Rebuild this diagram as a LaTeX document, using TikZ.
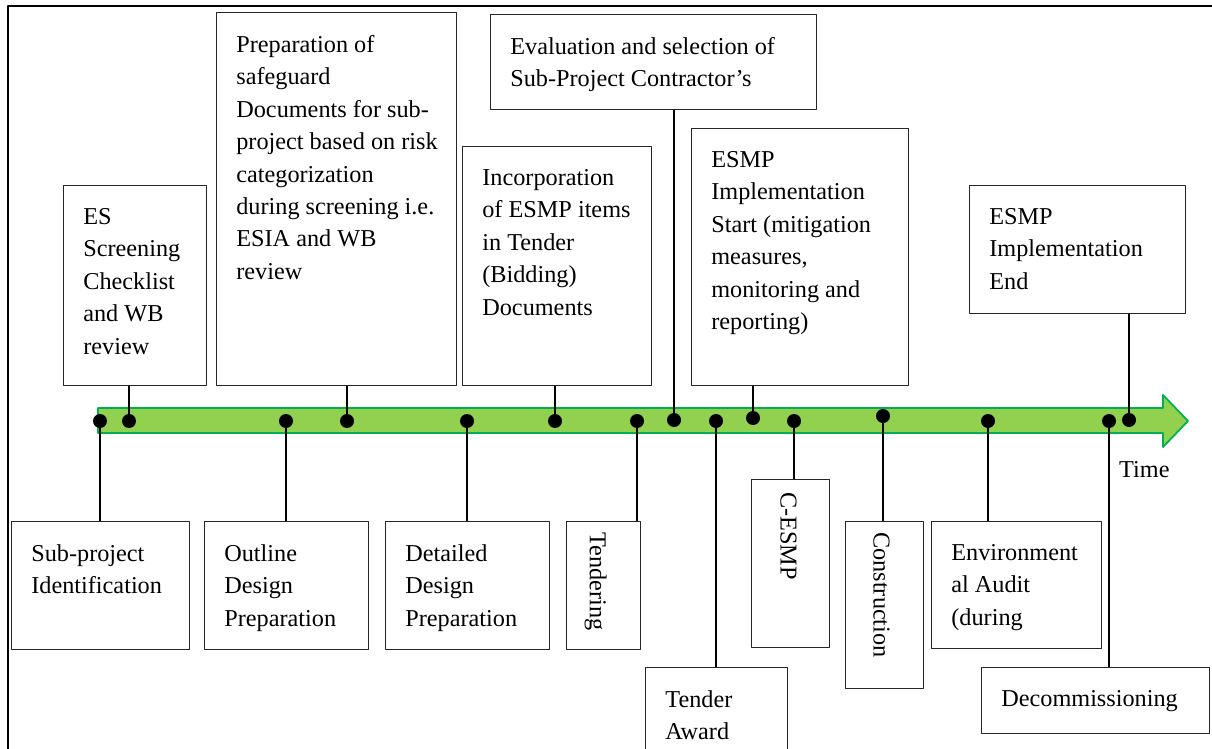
\documentclass[tikz,border=0pt]{standalone}
\usepackage{fontspec}
\setmainfont{Liberation Serif}
\usetikzlibrary{calc}
\definecolor{barfill}{HTML}{92D050}
\definecolor{barline}{HTML}{00B050}
\begin{document}
\begin{tikzpicture}[x=0.02cm,y=-0.02cm,line join=round,
	font=\fontsize{13.8}{18.45}\selectfont,
	box/.style={draw=black!85,line width=0.7pt,inner sep=0pt,anchor=north west},
	txt/.style={align=left,inner sep=0pt,anchor=north west},
	dot/.style={circle,fill,inner sep=0pt,minimum size=0.28cm},
	link/.style={line width=0.7pt}]
	\useasboundingbox (0,0) rectangle (1212,749);
	\clip (0,0) rectangle (1212,749);
	\draw[line width=1pt] (8,760) -- (8,6) -- (1220,6);
	\draw[fill=barfill,draw=barline,line width=1pt] (98,408) -- (1163,408) -- (1163,395) -- (1188,421)
		-- (1163,447) -- (1163,433) -- (98,433) -- cycle;
	\node[anchor=base west] (time) at (1113,477) {Time};
	% boxes above the time line
	\node[box,minimum width=2.86cm,minimum height=4cm] (screen) at (63,185) {};
	\node[txt] (screentext) at ($(screen.north west)+(20,23)$) {ES\\Screening\\Checklist\\and WB\\review};
	\node[box,minimum width=4.8cm,minimum height=7.46cm] (prep) at (216,12) {};
	\node[txt] (preptext) at ($(prep.north west)+(20,23)$) {Preparation of\\safeguard\\Documents for sub-\\project based on risk\\categorization\\during screening i.e.\\ESIA and WB\\review};
	\node[box,minimum width=6.52cm,minimum height=1.9cm] (select) at (490,14) {};
	\node[txt] (selecttext) at ($(select.north west)+(20,23)$) {Evaluation and selection of\\Sub-Project Contractor’s};
	\node[box,minimum width=3.78cm,minimum height=4.78cm] (incorp) at (462,146) {};
	\node[txt] (incorptext) at ($(incorp.north west)+(20,23)$) {Incorporation\\of ESMP items\\in Tender\\(Bidding)\\Documents};
	\node[box,minimum width=4.34cm,minimum height=5.14cm] (start) at (691,128) {};
	\node[txt] (starttext) at ($(start.north west)+(20,23)$) {ESMP\\Implementation\\Start (mitigation\\measures,\\monitoring and\\reporting)};
	\node[box,minimum width=4.32cm,minimum height=2.56cm] (finish) at (969,185) {};
	\node[txt] (finishtext) at ($(finish.north west)+(20,23)$) {ESMP\\Implementation\\End};
	% boxes below the time line
	\node[box,minimum width=3.56cm,minimum height=2.56cm] (ident) at (11,521) {};
	\node[txt] (identtext) at ($(ident.north west)+(20,23)$) {Sub-project\\Identification};
	\node[box,minimum width=3.28cm,minimum height=2.56cm] (outline) at (204,521) {};
	\node[txt] (outlinetext) at ($(outline.north west)+(20,23)$) {Outline\\Design\\Preparation};
	\node[box,minimum width=3.28cm,minimum height=2.56cm] (detail) at (385,521) {};
	\node[txt] (detailtext) at ($(detail.north west)+(20,23)$) {Detailed\\Design\\Preparation};
	\node[box,minimum width=1.48cm,minimum height=2.56cm] (tender) at (566,521) {};
	\node[txt,rotate=-90] (tendertext) at ($(tender.north west)+(41,11)$) {Tendering};
	\node[box,minimum width=2.84cm,minimum height=2cm] (award) at (645,667) {};
	\node[txt] (awardtext) at ($(award.north west)+(20,23)$) {Tender\\Award};
	\node[box,minimum width=1.56cm,minimum height=3.36cm] (cesmp) at (751,479) {};
	\node[txt,rotate=-90] (cesmptext) at ($(cesmp.north west)+(46,13)$) {C-ESMP};
	\node[box,minimum width=1.56cm,minimum height=3.34cm] (constr) at (845,521) {};
	\node[txt,rotate=-90] (constrtext) at ($(constr.north west)+(45,11)$) {Construction};
	\node[box,minimum width=3.4cm,minimum height=2.54cm] (audit) at (931,521) {};
	\node[txt] (audittext) at ($(audit.north west)+(20,23)$) {Environment\\al Audit\\(during};
	\node[box,minimum width=4.56cm,minimum height=1.32cm] (decom) at (981,667) {};
	\node[txt] (decomtext) at ($(decom.north west)+(20,23)$) {Decommissioning};
	% points on the time line
	\foreach \n/\x/\y in {ident/100/421,screen/129/421,outline/286/421,prep/347/421,detail/467/421,
		incorp/555/421,tender/637/421,select/674/420,award/716/421,start/753/418,cesmp/794/421,
		constr/883/416,audit/988/421,decom/1109/421,finish/1129/420}
		\node[dot] (p\n) at (\x,\y) {};
	\foreach \n in {screen,prep,select,incorp,start,finish}
		\draw[link] (p\n) -- (p\n |- \n.south);
	\foreach \n in {ident,outline,detail,tender,award,cesmp,constr,audit,decom}
		\draw[link] (p\n) -- (p\n |- \n.north);
\end{tikzpicture}
\end{document}
